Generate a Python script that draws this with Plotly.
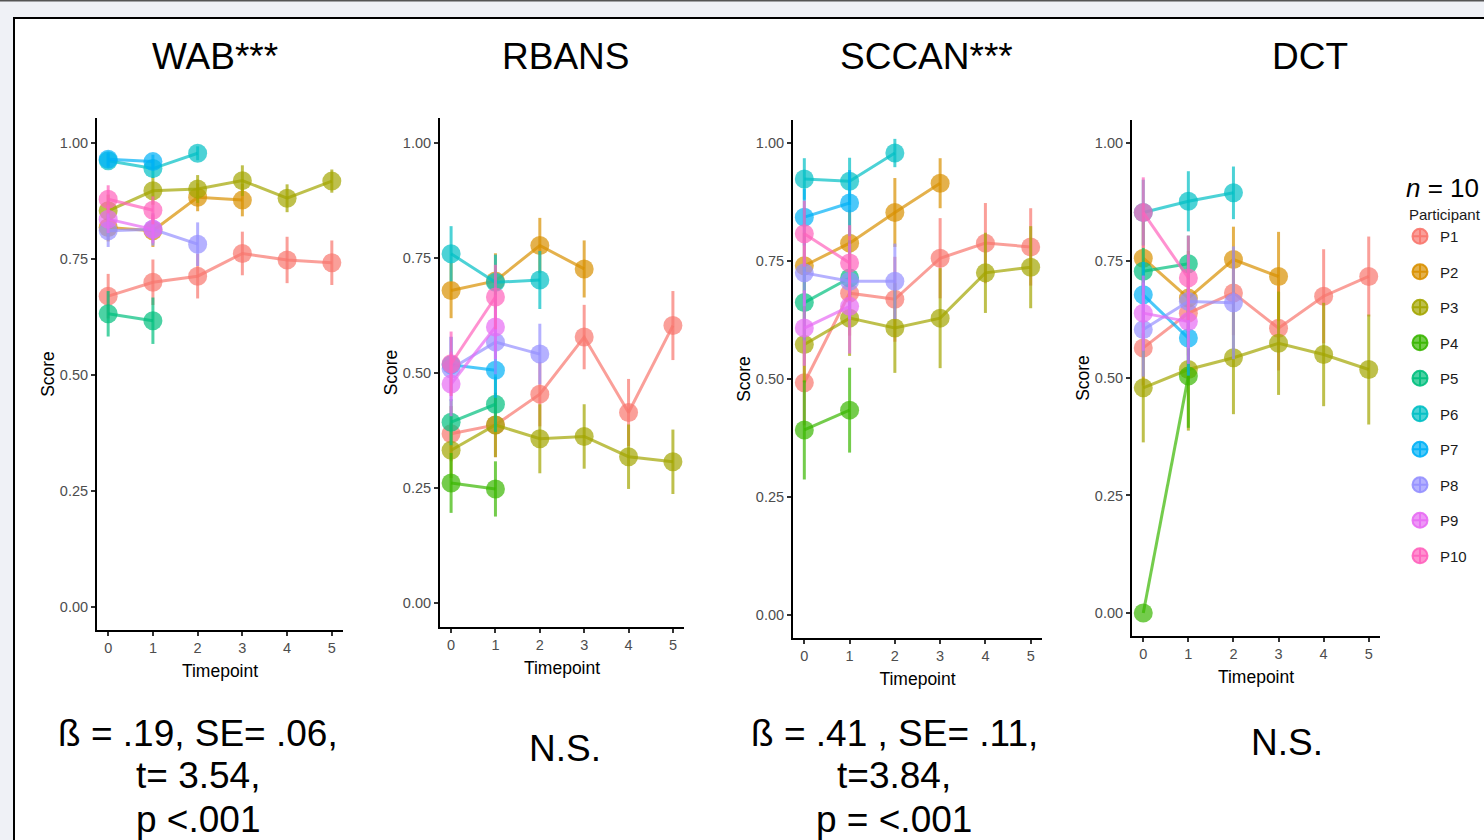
import plotly.graph_objects as go

# ---------------- data ----------------
PARTICIPANTS = ["P1", "P2", "P3", "P4", "P5", "P6", "P7", "P8", "P9", "P10"]
COLORS = ["#F8766D", "#D89000", "#A3A500", "#39B600", "#00BF7D",
          "#00BFC4", "#00B0F6", "#9590FF", "#E76BF3", "#FF62BC"]
TIMEPOINTS = [0, 1, 2, 3, 4, 5]
PANEL_TITLES = ["WAB***", "RBANS", "SCCAN***", "DCT"]

WAB_MEAN = {
    "P1": [0.670, 0.700, 0.713, 0.762, 0.748, 0.742],
    "P2": [0.818, 0.811, 0.883, 0.877],
    "P3": [0.854, 0.897, 0.901, 0.919, 0.881, 0.918],
    "P4": [],
    "P5": [0.632, 0.617],
    "P6": [0.962, 0.945, 0.978],
    "P7": [0.965, 0.960],
    "P8": [0.811, 0.814, 0.782],
    "P9": [0.836, 0.814],
    "P10": [0.879, 0.855],
}
WAB_SE = {
    "P1": [0.048, 0.049, 0.048, 0.047, 0.050, 0.048],
    "P2": [0.030, 0.035, 0.030, 0.035],
    "P3": [0.035, 0.030, 0.030, 0.033, 0.030, 0.025],
    "P4": [],
    "P5": [0.049, 0.050],
    "P6": [0.015, 0.020, 0.015],
    "P7": [0.015, 0.015],
    "P8": [0.035, 0.035, 0.047],
    "P9": [0.030, 0.030],
    "P10": [0.030, 0.030],
}

RBANS_MEAN = {
    "P1": [0.368, 0.387, 0.454, 0.578, 0.414, 0.603],
    "P2": [0.679, 0.700, 0.777, 0.726],
    "P3": [0.332, 0.387, 0.357, 0.362, 0.318, 0.307],
    "P4": [0.261, 0.248],
    "P5": [0.393, 0.432],
    "P6": [0.759, 0.697, 0.702],
    "P7": [0.518, 0.506],
    "P8": [0.509, 0.567, 0.541],
    "P9": [0.476, 0.600],
    "P10": [0.520, 0.665],
}
RBANS_SE = {
    "P1": [0.060, 0.070, 0.070, 0.070, 0.073, 0.075],
    "P2": [0.060, 0.060, 0.060, 0.062],
    "P3": [0.060, 0.070, 0.075, 0.070, 0.070, 0.070],
    "P4": [0.065, 0.060],
    "P5": [0.050, 0.060],
    "P6": [0.060, 0.060, 0.063],
    "P7": [0.060, 0.060],
    "P8": [0.070, 0.070, 0.066],
    "P9": [0.070, 0.070],
    "P10": [0.070, 0.070],
}

SCCAN_MEAN = {
    "P1": [0.492, 0.682, 0.669, 0.756, 0.788, 0.780],
    "P2": [0.740, 0.788, 0.853, 0.915],
    "P3": [0.573, 0.629, 0.608, 0.629, 0.725, 0.737],
    "P4": [0.392, 0.434],
    "P5": [0.662, 0.714],
    "P6": [0.924, 0.919, 0.979],
    "P7": [0.843, 0.873],
    "P8": [0.725, 0.707, 0.707],
    "P9": [0.608, 0.654],
    "P10": [0.808, 0.746],
}
SCCAN_SE = {
    "P1": [0.090, 0.090, 0.090, 0.085, 0.085, 0.082],
    "P2": [0.070, 0.070, 0.073, 0.053],
    "P3": [0.080, 0.080, 0.095, 0.106, 0.085, 0.087],
    "P4": [0.105, 0.090],
    "P5": [0.080, 0.080],
    "P6": [0.044, 0.050, 0.030],
    "P7": [0.060, 0.070],
    "P8": [0.070, 0.080, 0.080],
    "P9": [0.080, 0.100],
    "P10": [0.070, 0.080],
}

DCT_MEAN = {
    "P1": [0.564, 0.638, 0.681, 0.606, 0.674, 0.716],
    "P2": [0.755, 0.670, 0.752, 0.716],
    "P3": [0.479, 0.518, 0.543, 0.574, 0.550, 0.518],
    "P4": [0.000, 0.504],
    "P5": [0.727, 0.743],
    "P6": [0.852, 0.876, 0.894],
    "P7": [0.677, 0.585],
    "P8": [0.603, 0.663, 0.660],
    "P9": [0.638, 0.620],
    "P10": [0.852, 0.713],
}
DCT_SE = {
    "P1": [0.080, 0.090, 0.090, 0.090, 0.100, 0.085],
    "P2": [0.080, 0.100, 0.070, 0.095],
    "P3": [0.116, 0.130, 0.120, 0.110, 0.110, 0.117],
    "P4": [0.000, 0.110],
    "P5": [0.050, 0.060],
    "P6": [0.070, 0.064, 0.056],
    "P7": [0.070, 0.080],
    "P8": [0.100, 0.100, 0.120],
    "P9": [0.080, 0.090],
    "P10": [0.075, 0.090],
}

STATS_TEXT = [
    ["ß = .19, SE= .06,", "t= 3.54,", "p <.001"],
    ["N.S."],
    ["ß = .41 , SE= .11,", "t=3.84,", "p = <.001"],
    ["N.S."],
]

PANEL_DATA = [(WAB_MEAN, WAB_SE), (RBANS_MEAN, RBANS_SE),
              (SCCAN_MEAN, SCCAN_SE), (DCT_MEAN, DCT_SE)]

# ---------------- layout geometry (pixels) ----------------
W, H = 1484, 840
GEOM = [
    dict(x0=97, x1=343, y0=118, y1=630, yr=[-0.0496, 1.054], title_x=215,
         stats_x=198, stats_y=[733, 775, 819]),
    dict(x0=440, x1=684, y0=118, y1=627, yr=[-0.052, 1.054], title_x=565,
         stats_x=565, stats_y=[748]),
    dict(x0=793, x1=1042, y0=120, y1=638, yr=[-0.049, 1.049], title_x=926,
         stats_x=894, stats_y=[733, 775, 819]),
    dict(x0=1132, x1=1380, y0=120, y1=636, yr=[-0.049, 1.049], title_x=1310,
         stats_x=1287, stats_y=[742]),
]


def px_x(v):
    return v / W


def px_y(v):
    return 1 - v / H


def rgba(hexc, a):
    h = hexc.lstrip("#")
    r, g, b = int(h[0:2], 16), int(h[2:4], 16), int(h[4:6], 16)
    return f"rgba({r},{g},{b},{a})"


SANS = "Liberation Sans, Arial, sans-serif"
ALPHA = 0.7

fig = go.Figure()

# data traces
for pi, p in enumerate(PARTICIPANTS):
    col = COLORS[pi]
    for k, (means, ses) in enumerate(PANEL_DATA):
        vals = means[p]
        if not vals:
            continue
        axn = "" if k == 0 else str(k + 1)
        fig.add_trace(go.Scatter(
            x=TIMEPOINTS[:len(vals)], y=vals,
            mode="lines+markers",
            line=dict(color=rgba(col, ALPHA), width=3),
            marker=dict(size=19, color=rgba(col, ALPHA), line=dict(width=0)),
            error_y=dict(type="data", array=ses[p], color=rgba(col, ALPHA),
                         thickness=3, width=0),
            xaxis="x" + axn, yaxis="y" + axn,
            name=p, legendgroup=p, showlegend=False, hoverinfo="x+y+name",
        ))
    # legend key
    fig.add_trace(go.Scatter(
        x=[None], y=[None], mode="markers",
        marker=dict(symbol="circle-cross", size=15, color=rgba(col, ALPHA),
                    line=dict(color=rgba(col, 0.9), width=2)),
        name=p, legendgroup=p, showlegend=True, xaxis="x", yaxis="y",
    ))

layout = dict(
    width=W, height=H,
    margin=dict(l=0, r=0, t=0, b=0),
    paper_bgcolor="#eff1f6",
    plot_bgcolor="rgba(0,0,0,0)",
    template="none",
    showlegend=True,
    legend=dict(x=px_x(1400), y=px_y(220), xanchor="left", yanchor="top",
                font=dict(family=SANS, size=15, color="#1a1a1a"),
                tracegroupgap=13, bgcolor="rgba(0,0,0,0)", borderwidth=0,
                itemsizing="trace"),
    shapes=[
        dict(type="rect", xref="paper", yref="paper",
             x0=px_x(14), x1=1.02, y0=-0.02, y1=px_y(18),
             fillcolor="white", line=dict(color="black", width=2), layer="below"),
        dict(type="line", xref="paper", yref="paper",
             x0=0, x1=1, y0=1, y1=1, line=dict(color="#555555", width=3)),
    ],
    annotations=[],
)

for k, g in enumerate(GEOM):
    axn = "" if k == 0 else str(k + 1)
    xa = dict(
        domain=[px_x(g["x0"]), px_x(g["x1"])],
        range=[-0.25, 5.25], tickvals=TIMEPOINTS,
        showline=True, linecolor="black", linewidth=2, mirror=False,
        ticks="outside", ticklen=4, tickwidth=1.5, tickcolor="#333333",
        showgrid=False, zeroline=False,
        tickfont=dict(family=SANS, size=14.5, color="#4d4d4d"),
        title=dict(text="Timepoint", font=dict(family=SANS, size=17.5, color="black"),
                   standoff=9),
        anchor="y" + axn, fixedrange=True,
    )
    ya = dict(
        domain=[px_y(g["y1"]), px_y(g["y0"])],
        range=g["yr"], tickvals=[0, 0.25, 0.5, 0.75, 1.0],
        ticktext=["0.00", "0.25", "0.50", "0.75", "1.00"],
        showline=True, linecolor="black", linewidth=2, mirror=False,
        ticks="outside", ticklen=4, tickwidth=1.5, tickcolor="#333333",
        showgrid=False, zeroline=False,
        tickfont=dict(family=SANS, size=14.5, color="#4d4d4d"),
        title=dict(text="Score", font=dict(family=SANS, size=17.5, color="black"),
                   standoff=1),
        anchor="x" + axn, fixedrange=True,
    )
    layout["xaxis" + axn] = xa
    layout["yaxis" + axn] = ya
    layout["annotations"].append(dict(
        text=PANEL_TITLES[k], x=px_x(g["title_x"]), y=px_y(57),
        xref="paper", yref="paper", xanchor="center", yanchor="middle",
        showarrow=False, font=dict(family=SANS, size=37, color="black")))
    for line_text, yy in zip(STATS_TEXT[k], g["stats_y"]):
        layout["annotations"].append(dict(
            text=line_text, x=px_x(g["stats_x"]), y=px_y(yy),
            xref="paper", yref="paper", xanchor="center", yanchor="middle",
            showarrow=False, font=dict(family=SANS, size=37, color="black")))

layout["annotations"].append(dict(
    text="<i>n</i> = 10", x=px_x(1404), y=px_y(188), xref="paper", yref="paper",
    xanchor="left", yanchor="middle", showarrow=False,
    font=dict(family=SANS, size=26, color="black")))
layout["annotations"].append(dict(
    text="Participant", x=px_x(1407), y=px_y(215), xref="paper", yref="paper",
    xanchor="left", yanchor="middle", showarrow=False,
    font=dict(family=SANS, size=15, color="#1a1a1a")))

fig.update_layout(**layout)
fig.write_html(
    "out.html",
    config={"displayModeBar": False},
    post_script="document.body.style.margin='0px';document.body.style.overflow='hidden';",
)
